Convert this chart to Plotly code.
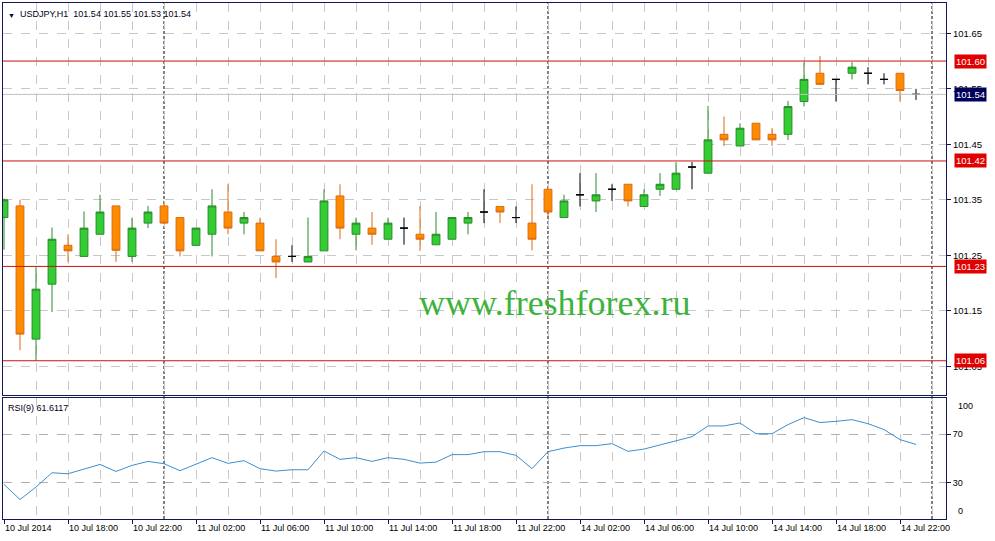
import plotly.graph_objects as go

# bar index 0 = 10 Jul 2014 14:00, one bar per hour (weekend gap removed)
tick_bars = [0, 4, 8, 12, 16, 20, 24, 28, 32, 36, 40, 44, 48, 52, 56]
tick_labels = ["10 Jul 2014", "10 Jul 18:00", "10 Jul 22:00", "11 Jul 02:00", "11 Jul 06:00",
               "11 Jul 10:00", "11 Jul 14:00", "11 Jul 18:00", "11 Jul 22:00", "14 Jul 02:00",
               "14 Jul 06:00", "14 Jul 10:00", "14 Jul 14:00", "14 Jul 18:00", "14 Jul 22:00"]
day_breaks = [10, 34, 58]

opens = [101.318, 101.339, 101.099, 101.198, 101.268, 101.248, 101.288, 101.339, 101.248, 101.308,
         101.339, 101.318, 101.268, 101.288, 101.328, 101.308, 101.308, 101.248, 101.248, 101.238,
         101.258, 101.357, 101.288, 101.299, 101.279, 101.299, 101.288, 101.269, 101.279, 101.308,
         101.328, 101.338, 101.318, 101.308, 101.369, 101.318, 101.359, 101.348, 101.369, 101.378,
         101.338, 101.369, 101.369, 101.409, 101.398, 101.468, 101.447, 101.488, 101.468, 101.468,
         101.527, 101.578, 101.567, 101.578, 101.578, 101.567, 101.578, 101.540]
highs = [101.352, 101.350, 101.229, 101.300, 101.288, 101.329, 101.359, 101.339, 101.318, 101.339,
         101.345, 101.318, 101.299, 101.369, 101.378, 101.328, 101.318, 101.279, 101.268, 101.318,
         101.369, 101.378, 101.318, 101.328, 101.318, 101.318, 101.339, 101.328, 101.318, 101.328,
         101.369, 101.338, 101.338, 101.378, 101.369, 101.359, 101.398, 101.398, 101.378, 101.378,
         101.369, 101.398, 101.418, 101.418, 101.519, 101.500, 101.488, 101.488, 101.479, 101.528,
         101.598, 101.609, 101.567, 101.598, 101.589, 101.578, 101.578, 101.550]
lows = [101.260, 101.079, 101.060, 101.148, 101.238, 101.248, 101.288, 101.238, 101.238, 101.299,
        101.308, 101.248, 101.268, 101.248, 101.288, 101.288, 101.258, 101.209, 101.238, 101.238,
        101.258, 101.279, 101.259, 101.269, 101.279, 101.269, 101.258, 101.269, 101.279, 101.288,
        101.308, 101.308, 101.308, 101.259, 101.318, 101.318, 101.338, 101.328, 101.348, 101.338,
        101.338, 101.357, 101.369, 101.369, 101.398, 101.447, 101.447, 101.458, 101.447, 101.458,
        101.518, 101.558, 101.527, 101.567, 101.558, 101.558, 101.527, 101.530]
closes = [101.350, 101.108, 101.189, 101.279, 101.258, 101.299, 101.328, 101.259, 101.299, 101.328,
          101.308, 101.258, 101.299, 101.339, 101.299, 101.318, 101.258, 101.238, 101.248, 101.248,
          101.348, 101.299, 101.308, 101.288, 101.308, 101.299, 101.279, 101.288, 101.318, 101.318,
          101.328, 101.328, 101.318, 101.279, 101.328, 101.348, 101.359, 101.359, 101.369, 101.348,
          101.359, 101.378, 101.398, 101.409, 101.458, 101.458, 101.479, 101.458, 101.458, 101.518,
          101.567, 101.558, 101.567, 101.589, 101.578, 101.567, 101.547, 101.540]
# doji bars (open == close) drawn as black crosses
doji = [18, 25, 30, 32, 36, 38, 43, 52, 54, 55, 57]

rsi = [28.6, 16.1, 26.4, 38.2, 37.4, 41.3, 45.1, 39.3, 44.3, 47.6,
       45.7, 39.9, 45.4, 50.7, 46.0, 48.2, 41.6, 39.6, 40.7, 40.7,
       56.2, 49.3, 50.7, 47.6, 50.7, 49.3, 46.2, 47.0, 53.2, 53.2,
       55.6, 55.6, 52.6, 41.6, 55.6, 58.6, 60.6, 60.6, 62.3, 55.9,
       57.8, 61.4, 65.0, 68.0, 76.9, 76.9, 79.4, 70.5, 70.5, 78.0,
       83.8, 79.7, 80.7, 82.1, 78.8, 73.9, 65.6, 61.6]

price_ticks = [101.05, 101.15, 101.25, 101.35, 101.45, 101.55, 101.65]
levels = [101.60, 101.42, 101.23, 101.06]
bid = 101.54

FONT = "Liberation Sans"
GRID = "#c8c8c8"
FRAME = "#15155a"

bars = list(range(len(opens)))
body = [i for i in bars if i not in doji]

fig = go.Figure()

fig.add_trace(go.Candlestick(
    x=body,
    open=[opens[i] for i in body], high=[highs[i] for i in body],
    low=[lows[i] for i in body], close=[closes[i] for i in body],
    increasing=dict(fillcolor="#32cd32", line=dict(color="#2a8a2a", width=1)),
    decreasing=dict(fillcolor="#ff8c00", line=dict(color="#dc6a14", width=1)),
    showlegend=False, hoverinfo="skip",
))
fig.add_trace(go.Candlestick(
    x=doji,
    open=[opens[i] for i in doji], high=[highs[i] for i in doji],
    low=[lows[i] for i in doji], close=[closes[i] for i in doji],
    increasing=dict(fillcolor="black", line=dict(color="black", width=1)),
    decreasing=dict(fillcolor="black", line=dict(color="black", width=1)),
    showlegend=False, hoverinfo="skip",
))

fig.add_trace(go.Scatter(
    x=bars, y=rsi, mode="lines", xaxis="x2", yaxis="y2",
    line=dict(color="#3a8fd0", width=1), showlegend=False, hoverinfo="skip",
))

# support / resistance levels and bid line
for lv in levels:
    fig.add_shape(type="line", xref="paper", x0=0, x1=1, yref="y", y0=lv, y1=lv,
                  line=dict(color="#cc1010", width=1))
    fig.add_annotation(x=1, xref="paper", xanchor="left", xshift=8, y=lv, yref="y",
                       text=f"{lv:.2f}", showarrow=False, bgcolor="#e00000", borderpad=1,
                       font=dict(family=FONT, size=9.5, color="white"))
fig.add_shape(type="line", xref="paper", x0=0, x1=1, yref="y", y0=bid, y1=bid,
              line=dict(color="#c0c0c0", width=1))
fig.add_annotation(x=1, xref="paper", xanchor="left", xshift=8, y=bid, yref="y",
                   text=f"{bid:.2f}", showarrow=False, bgcolor="#00005a", borderpad=1,
                   font=dict(family=FONT, size=9.5, color="white"))

# day separators, behind the candles
for d in day_breaks:
    fig.add_shape(type="line", xref="x", x0=d, x1=d, yref="paper", y0=0, y1=1, layer="below",
                  line=dict(color="black", width=1, dash="3px,2px"))

fig.add_annotation(x=0, xref="paper", xanchor="left", xshift=3, y=1, yref="paper", yanchor="top",
                   yshift=-7, text="▼", showarrow=False, font=dict(family=FONT, size=7, color="#000040"))
fig.add_annotation(x=0, xref="paper", xanchor="left", xshift=15, y=1, yref="paper", yanchor="top",
                   yshift=-4, text="USDJPY,H1  101.54 101.55 101.53 101.54", showarrow=False,
                   font=dict(family=FONT, size=9, color="#000020"))
fig.add_annotation(x=0, xref="paper", xanchor="left", xshift=3, y=0.235, yref="paper", yanchor="top",
                   yshift=-3, text="RSI(9) 61.6117", showarrow=False,
                   font=dict(family=FONT, size=9, color="#000020"))
fig.add_annotation(x=1, xref="paper", xanchor="left", xshift=10, y=100, yref="y2", yanchor="top",
                   yshift=-1, text="100", showarrow=False, font=dict(family=FONT, size=9, color="black"))
fig.add_annotation(x=1, xref="paper", xanchor="left", xshift=10, y=0, yref="y2", yanchor="bottom",
                   yshift=1, text="0", showarrow=False, font=dict(family=FONT, size=9, color="black"))

fig.add_annotation(x=0.585, xref="paper", y=0.418, yref="paper", text="www.freshforex.ru",
                   showarrow=False, font=dict(family="Liberation Serif", size=36, color="#3db33d"))

xcommon = dict(
    range=[-0.0625, 58.875], tickvals=tick_bars, showgrid=True, gridcolor=GRID, griddash="dash",
    gridwidth=1, minor=dict(tickvals=list(range(0, 59, 2)), showgrid=True, gridcolor=GRID,
                            griddash="dash", gridwidth=1),
    showline=True, mirror=True, linecolor=FRAME, linewidth=1, zeroline=False,
)

fig.update_layout(
    width=995, height=541,
    margin=dict(l=3, r=49, t=3, b=22),
    paper_bgcolor="white", plot_bgcolor="white",
    template="none",
    font=dict(family=FONT, size=9, color="black"),
    xaxis=dict(anchor="y", showticklabels=False, ticks="", rangeslider=dict(visible=False), **xcommon),
    xaxis2=dict(anchor="y2", matches="x", ticktext=tick_labels, ticks="outside", ticklen=4,
                tickcolor=FRAME, ticklabelposition="outside right",
                tickfont=dict(family=FONT, size=9, color="black"), **xcommon),
    yaxis=dict(domain=[0.2403, 1], anchor="x", side="right", range=[100.9983, 101.7046],
               tickvals=price_ticks, ticktext=[f"{p:.2f}" for p in price_ticks],
               ticks="outside", ticklen=4, tickcolor=FRAME,
               tickfont=dict(family=FONT, size=9.5, color="black"),
               showgrid=True, gridcolor=GRID, griddash="dash", zeroline=False,
               showline=True, mirror=True, linecolor=FRAME, linewidth=1),
    yaxis2=dict(domain=[0, 0.2345], anchor="x2", side="right", range=[0, 100],
                tickvals=[30, 70], ticktext=["30", "70"],
                ticks="outside", ticklen=4, tickcolor=FRAME,
                tickfont=dict(family=FONT, size=9, color="black"),
                showgrid=True, gridcolor="#b0b0b0", griddash="dash", zeroline=False,
                showline=True, mirror=True, linecolor=FRAME, linewidth=1),
    boxgap=0.3,
)

# the page's default body margin would push the 995x541 figure off the window
fig.write_html("out.html", config={"displayModeBar": False},
               post_script="document.body.style.margin = '0';")
